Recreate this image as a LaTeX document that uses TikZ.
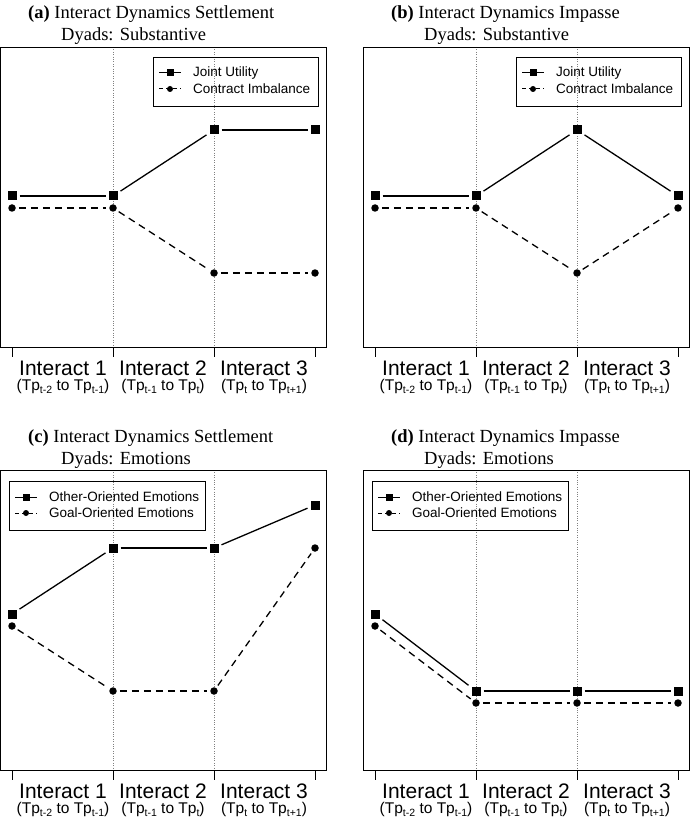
\documentclass[tikz,border=0pt]{standalone}
\usepackage{fontspec}
\setmainfont{Liberation Serif}
\setsansfont{Liberation Sans}
\newcommand\sbs[1]{\raisebox{-0.4ex}{\fontsize{10.5}{10.5}\selectfont #1}}
\begin{document}
\begin{tikzpicture}[x=1pt,y=-1pt,
  sq/.style={fill=black,minimum size=9pt,inner sep=0pt,outer sep=3pt},
  ci/.style={circle,fill=black,minimum size=7.5pt,inner sep=0pt,outer sep=3pt},
  solidl/.style={line width=1.3pt},
  dashl/.style={line width=1.3pt,dash pattern=on 7pt off 5pt},
  lsq/.style={fill=black,minimum size=7pt,inner sep=0pt},
  lci/.style={circle,fill=black,minimum size=6pt,inner sep=0pt},
  lab/.style={font=\sffamily\fontsize{21}{23}\selectfont,anchor=base,inner sep=0pt},
  sublab/.style={font=\sffamily\fontsize{15.5}{17}\selectfont,anchor=base,inner sep=0pt},
  ttl/.style={font=\fontsize{18.5}{21}\selectfont,anchor=base west,inner sep=0pt},
  leg/.style={font=\sffamily\fontsize{13.5}{15}\selectfont,anchor=west,inner sep=0pt}]
\useasboundingbox (0,0) rectangle (690,818);
\newcommand\mypanel[7]{%
 \begin{scope}[shift={(#2,#3)}]
  \draw[gray,dotted] (113,0) -- (113,300) (214,0) -- (214,300);
  \draw[line width=0.8pt] (0,0) rectangle (326,300);
  \foreach \x in {12,113,214,315} \draw[line width=0.7pt] (\x,300) -- (\x,310);
  \node[ttl] (#1t1) at (28,-28) {\textbf{(#1)} #4};
  \node[ttl] (#1t2) at (61,-6) {#5};
  \node[lab] (#1l1) at (63,328) {Interact 1};
  \node[lab] (#1l2) at (163,328) {Interact 2};
  \node[lab] (#1l3) at (264,328) {Interact 3};
  \node[sublab] (#1m1) at (63,343) {(Tp\sbs{t-2} to Tp\sbs{t-1})};
  \node[sublab] (#1m2) at (163,343) {(Tp\sbs{t-1} to Tp\sbs{t})};
  \node[sublab] (#1m3) at (264,343) {(Tp\sbs{t} to Tp\sbs{t+1})};
  \foreach \y [count=\i] in {#6} {\pgfmathsetmacro\xx{{12,113,214,315}[\i-1]}\node[sq] (#1s\i) at (\xx,\y) {};}
  \foreach \y [count=\i] in {#7} {\pgfmathsetmacro\xx{{12,113,214,315}[\i-1]}\node[ci] (#1c\i) at (\xx,\y) {};}
  \foreach \i/\j in {1/2,2/3,3/4} {\draw[solidl] (#1s\i) -- (#1s\j); \draw[dashl] (#1c\i) -- (#1c\j);}
 \end{scope}}
\newcommand\mylegend[7]{%
 \begin{scope}[shift={(#2,#3)}]
  \draw[line width=0.7pt] (0,0) rectangle (#4,49);
  \draw[line width=1pt] (6,16) -- (28,16); \node[lsq] (#1ls) at (17,16) {};
  \draw[line width=1pt,dash pattern=on 4pt off 3pt] (6,32) -- (28,32); \node[lci] (#1lc) at (17,32) {};
  \node[leg] (#1lt1) at (40,16) {#6};
  \node[leg] (#1lt2) at (40,32) {#7};
 \end{scope}}
\mypanel{a}{0}{47}{Interact Dynamics Settlement}{Dyads: Substantive}{149,149,83,83}{161,161,226,226}
\mypanel{b}{363}{47}{Interact Dynamics Impasse}{Dyads: Substantive}{149,149,83,149}{161,161,226,161}
\mypanel{c}{0}{470}{Interact Dynamics Settlement}{Dyads: Emotions}{144,78,78,35}{156,221,221,78}
\mypanel{d}{363}{470}{Interact Dynamics Impasse}{Dyads: Emotions}{144,221,221,221}{156,233,233,233}
\mylegend{a}{153}{57}{165}{}{Joint Utility}{Contract Imbalance}
\mylegend{b}{516}{57}{165}{}{Joint Utility}{Contract Imbalance}
\mylegend{c}{9}{481}{196}{}{Other-Oriented Emotions}{Goal-Oriented Emotions}
\mylegend{d}{372}{481}{196}{}{Other-Oriented Emotions}{Goal-Oriented Emotions}
\end{tikzpicture}
\end{document}
